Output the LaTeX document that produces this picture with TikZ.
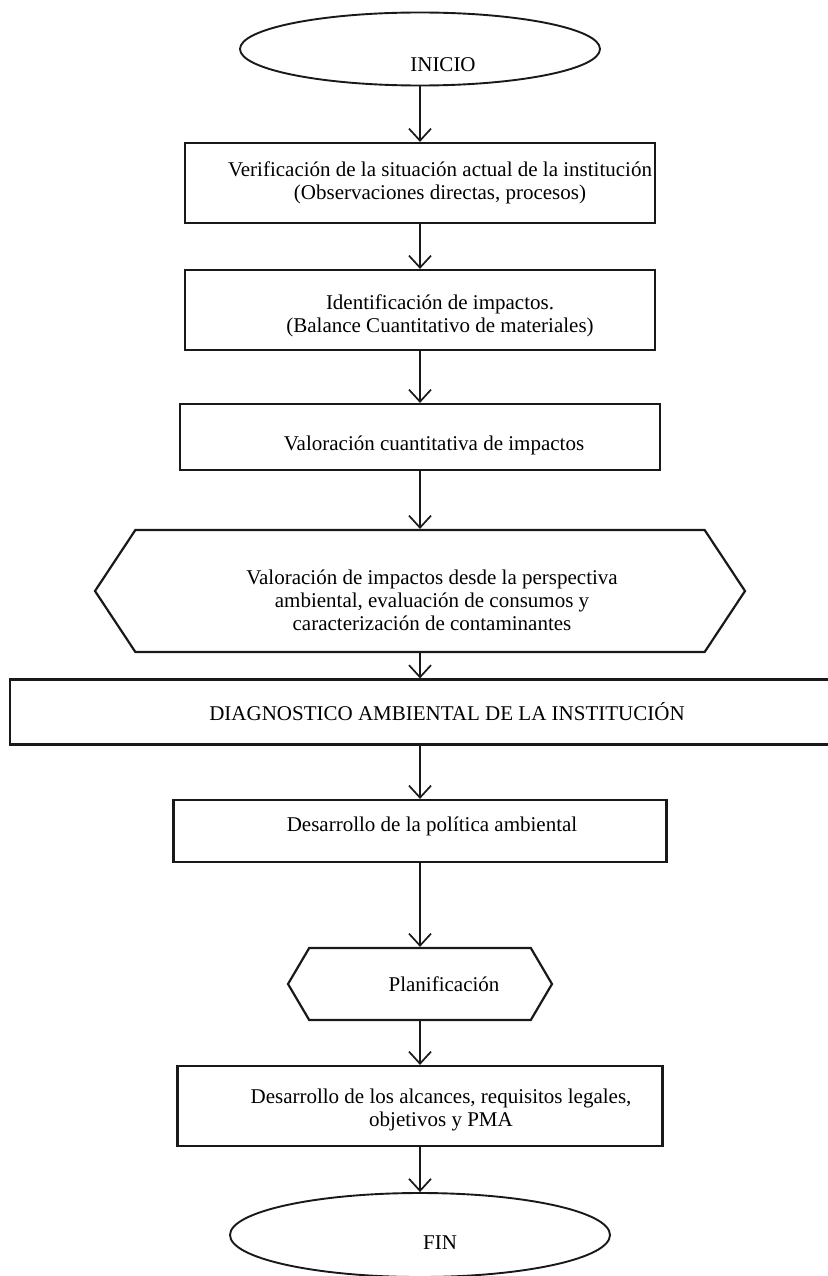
\documentclass[tikz,border=0pt]{standalone}
\usepackage{fontspec}
\setmainfont{Liberation Serif}
\usetikzlibrary{shapes.geometric,shapes.symbols,arrows.meta,positioning}

\begin{document}
\begin{tikzpicture}[x=1pt, y=-1pt, >={Straight Barb[length=12pt,width=22pt]}, font=\fontsize{21}{23}\selectfont]
\tikzstyle{caja}=[draw=black!90,line width=2.2pt,rectangle,inner sep=0pt]
\tikzstyle{term}=[draw=black!90,line width=1.9pt,ellipse,inner sep=0pt]
\tikzstyle{hexa}=[draw=black!90,line width=2.2pt,signal,signal to=west and east,inner sep=0pt]
\tikzstyle{txt}=[align=center,inner sep=0pt,text=black]
\useasboundingbox (0,0) rectangle (827,1276);
\node[term,minimum width=360,minimum height=73,
  label={[txt,xshift=23pt,yshift=-16pt]center:INICIO}]  (1) at (420,49) {};
\node[caja,minimum width=470,minimum height=80,
  label={[txt,xshift=20pt]center:{Verificación de la situación actual de la institución\\(Observaciones directas, procesos)}}] (2) at (420,183) {};
\node[caja,minimum width=470,minimum height=80,
  label={[txt,xshift=20pt,yshift=-6pt]center:{Identificación de impactos.\\(Balance Cuantitativo de materiales)}}] (3) at (420,310) {};
\node[caja,minimum width=480,minimum height=66,
  label={[txt,xshift=14pt,yshift=-8pt]center:{Valoración cuantitativa de impactos}}] (4) at (420,437) {};
\node[hexa,minimum width=650,minimum height=122,signal pointer angle=113,
  label={[txt,xshift=12pt,yshift=-9pt]center:{Valoración de impactos desde la perspectiva\\ambiental, evaluación de consumos y\\caracterización de contaminantes}}] (5) at (420,591) {};
\node[caja,minimum width=820,minimum height=65,
  label={[txt,xshift=27pt]center:{DIAGNOSTICO AMBIENTAL DE LA INSTITUCIÓN}}] (6) at (420,712) {};
\node[caja,minimum width=493,minimum height=62,
  label={[txt,xshift=12pt,yshift=5pt]center:{Desarrollo de la política ambiental}}] (7) at (420,831) {};
\node[hexa,minimum width=264,minimum height=72,signal pointer angle=119,
  label={[txt,xshift=24pt]center:{Planificación}}] (8) at (420,984) {};
\node[caja,minimum width=485,minimum height=80,
  label={[txt,xshift=21pt,yshift=-4pt]center:{Desarrollo de los alcances, requisitos legales,\\objetivos y PMA}}] (9) at (420,1106) {};
\node[term,minimum width=380,minimum height=84,
  label={[txt,xshift=20pt,yshift=-8pt]center:FIN}] (10) at (420,1235) {};
\path[->,draw=black!90,line width=1.7pt]
(1) edge (2)
(2) edge (3)
(3) edge (4)
(4) edge (5)
(5) edge (6)
(6) edge (7)
(7) edge (8)
(8) edge (9)
(9) edge (10)
;
\end{tikzpicture}
\end{document}
